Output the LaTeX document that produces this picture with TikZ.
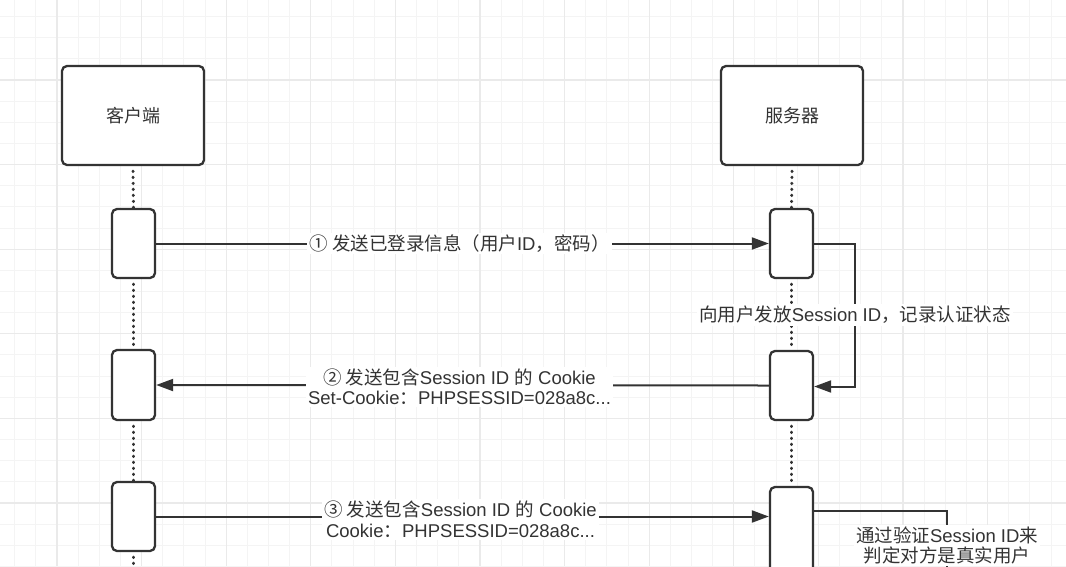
\documentclass[tikz,border=0pt]{standalone}
\usepackage{fontspec}
\setmainfont{Liberation Sans}
\newfontfamily\cjk{Noto Sans CJK SC}
\usetikzlibrary{arrows.meta}
\definecolor{ink}{HTML}{333333}
\definecolor{gmaj}{HTML}{EAEAEA}
\definecolor{gmin}{HTML}{F4F4F4}
\begin{document}
\begin{tikzpicture}[x=1pt,y=-1pt,
  actor/.style={draw=ink,line width=2.3pt,rounded corners=5pt,fill=white,minimum width=142pt,minimum height=99pt,inner sep=0pt,text=ink,font=\fontsize{18}{21}\selectfont\cjk},
  act/.style={draw=ink,line width=2.3pt,rounded corners=5pt,fill=white,minimum width=43pt,inner sep=0pt},
  life/.style={draw=ink,line width=3pt,line cap=round,dash pattern=on 0.5pt off 5.5pt},
  msg/.style={draw=ink,line width=2pt,-{Triangle[length=17pt,width=12pt]}},
  plain/.style={draw=ink,line width=2pt},
  lbl/.style={fill=white,inner sep=2pt,text=ink,align=center,font=\fontsize{18.5}{20.5}\selectfont}
]
\useasboundingbox (0,0) rectangle (1066,566);
\clip (0,0) rectangle (1066,566);
\fill[white] (0,0) rectangle (1066,566);
% grid
\foreach \k in {0,...,52} {\draw[gmin,line width=1pt] ({-27.6+21.15*\k},0) -- ({-27.6+21.15*\k},566);}
\foreach \k in {0,...,28} {\draw[gmin,line width=1pt] (0,{-4.6+21.15*\k}) -- (1066,{-4.6+21.15*\k});}
\foreach \k in {0,...,13} {\draw[gmaj,line width=1.2pt] ({-27.6+84.6*\k},0) -- ({-27.6+84.6*\k},566);}
\foreach \k in {0,...,7} {\draw[gmaj,line width=1.2pt] (0,{-4.6+84.6*\k}) -- (1066,{-4.6+84.6*\k});}
% actors
\node[actor] (client) at (133,115.5) {客户端};
\node[actor] (server) at (792,115.5) {服务器};
% activations
\node[act,minimum height=69pt] (c1) at (133.5,243.5) {};
\node[act,minimum height=70pt] (c2) at (133.5,385) {};
\node[act,minimum height=69pt] (c3) at (133.5,516.5) {};
\node[act,minimum height=69pt] (s1) at (791.5,243.5) {};
\node[act,minimum height=69pt] (s2) at (791.5,385.5) {};
\node[act,minimum height=120pt] (s3) at (791.5,547) {};
\coordinate (cend) at (133.5,575);
% lifelines
\draw[life] ([yshift=-5pt]client.south) -- (c1.north);
\draw[life] ([yshift=-5pt]c1.south) -- (c2.north);
\draw[life] ([yshift=-5pt]c2.south) -- (c3.north);
\draw[life] ([yshift=-5pt]c3.south) -- (cend);
\draw[life] ([yshift=-5pt]server.south) -- (s1.north);
\draw[life] ([yshift=-5pt]s1.south) -- (s2.north);
\draw[life] ([yshift=-5pt]s2.south) -- (s3.north);
% message 1
\draw[msg] (c1.east) -- node[lbl,xshift=-3pt] (m1) {{\cjk ① 发送已登录信息（用户}ID{\cjk ，密码）}} (s1.west);
% self loop 1
\coordinate (l1a) at (855,243.5);
\coordinate (l1b) at (855,386.5);
\draw[msg] (s1.east) -- (l1a) -- node[lbl] (n1) {{\cjk 向用户发放}Session ID{\cjk ，记录认证状态}} (l1b) -- (s2.east |- l1b);
% message 2
\draw[msg] (s2.west) -- node[lbl,yshift=-1.5pt,xshift=-3pt] (m2) {{\cjk ② 发送包含}Session ID {\cjk 的} Cookie\\Set-Cookie{\cjk ：}PHPSESSID=028a8c...} (c2.east);
% message 3
\draw[msg] (c3.east) -- node[lbl,yshift=-3pt,xshift=-2pt] (m3) {{\cjk ③ 发送包含}Session ID {\cjk 的} Cookie\\Cookie{\cjk ：}PHPSESSID=028a8c...} (c3.east -| s3.west);
% self loop 3
\coordinate (l3a) at (947,511);
\coordinate (l3b) at (947,578);
\draw[plain] (s3.east |- l3a) -- (l3a) -- node[lbl,yshift=-1pt] (n3) {{\cjk 通过验证}Session ID{\cjk 来}\\{\cjk 判定对方是真实用户}} (l3b);
\end{tikzpicture}
\end{document}
